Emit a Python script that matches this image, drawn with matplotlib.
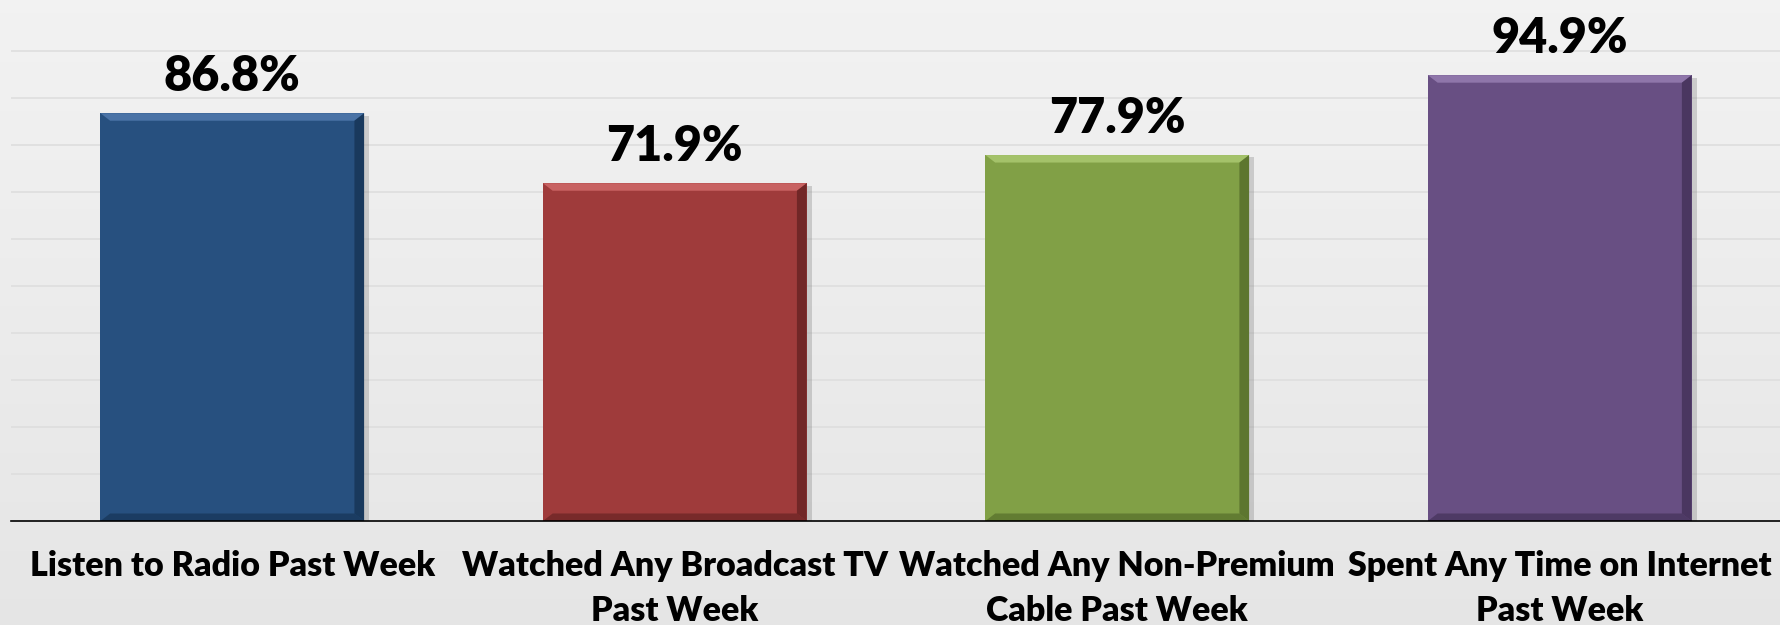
import matplotlib.pyplot as plt
import numpy as np
from matplotlib.patches import Polygon

plt.rcParams['font.family'] = ['Lato', 'DejaVu Sans']

# data
categories = ["Listen to Radio Past Week",
              "Watched Any Broadcast TV\nPast Week",
              "Watched Any Non-Premium\nCable Past Week",
              "Spent Any Time on Internet\nPast Week"]
values = [86.8, 71.9, 77.9, 94.9]
colors = ["#27507f", "#9f3b3b", "#81a046", "#684f83"]
light = ["#4a73a6", "#c86262", "#a4c26a", "#8f76aa"]
dark = ["#14304f", "#5e1f1f", "#4e6526", "#3e2c52"]

fig = plt.figure(figsize=(17.81, 6.25), dpi=100)

# background gradient
bg = fig.add_axes([0, 0, 1, 1], zorder=-10)
grad = np.linspace(0.95, 0.90, 256).reshape(-1, 1)
bg.imshow(np.dstack([grad, grad, grad]), aspect='auto', extent=[0, 1, 0, 1])
bg.axis('off')

ax = fig.add_axes([0.0062, 0.1664, 0.9938, 0.8336])
ax.patch.set_alpha(0)

x = np.arange(len(values))
w = 0.596
bars = ax.bar(x, values, width=w, color=colors, zorder=3)

# bevel look: light top strip, darker right edge, soft shadow
for b, lc, dc in zip(bars, light, dark):
    x0, x1 = b.get_x(), b.get_x() + b.get_width()
    h = b.get_height()
    dx = 0.022
    dy = 1.6
    ax.add_patch(Polygon([(x0 + 0.012, h - 0.5), (x1 + 0.012, h - 0.5), (x1 + 0.012, -0.4), (x0 + 0.012, -0.4)],
                         closed=True, color="#888888", alpha=0.35, zorder=2, lw=0))
    ax.add_patch(Polygon([(x0, h), (x1, h), (x1 - dx, h - dy), (x0 + dx, h - dy)],
                         closed=True, color=lc, zorder=4, lw=0))
    ax.add_patch(Polygon([(x1, h), (x1, 0), (x1 - dx, dy), (x1 - dx, h - dy)],
                         closed=True, color=dc, alpha=0.7, zorder=4, lw=0))
    ax.add_patch(Polygon([(x0, 0), (x1, 0), (x1 - dx, dy), (x0 + dx, dy)],
                         closed=True, color=dc, alpha=0.6, zorder=4, lw=0))
    ax.text(b.get_x() + b.get_width() / 2, h + 3.0, f"{h:.1f}%", ha='center', va='bottom',
            fontsize=35, fontweight='heavy', color='black')

ax.set_xlim(-0.5, 3.5)
ax.set_ylim(0, 110.9)
ax.set_yticks(np.arange(0, 101, 10))
ax.yaxis.grid(True, color="#dedede", lw=1.2, zorder=0)
ax.tick_params(axis='y', left=False, labelleft=False)
ax.tick_params(axis='x', length=0, pad=21)
ax.set_xticks(x)
ax.set_xticklabels(categories, fontsize=24.5, fontweight='heavy', linespacing=1.5)
for s in ['top', 'right', 'left']:
    ax.spines[s].set_visible(False)
ax.spines['bottom'].set_color('black')
ax.spines['bottom'].set_linewidth(1.2)
ax.spines['bottom'].set_zorder(5)

fig.savefig("out.png", dpi=100)
